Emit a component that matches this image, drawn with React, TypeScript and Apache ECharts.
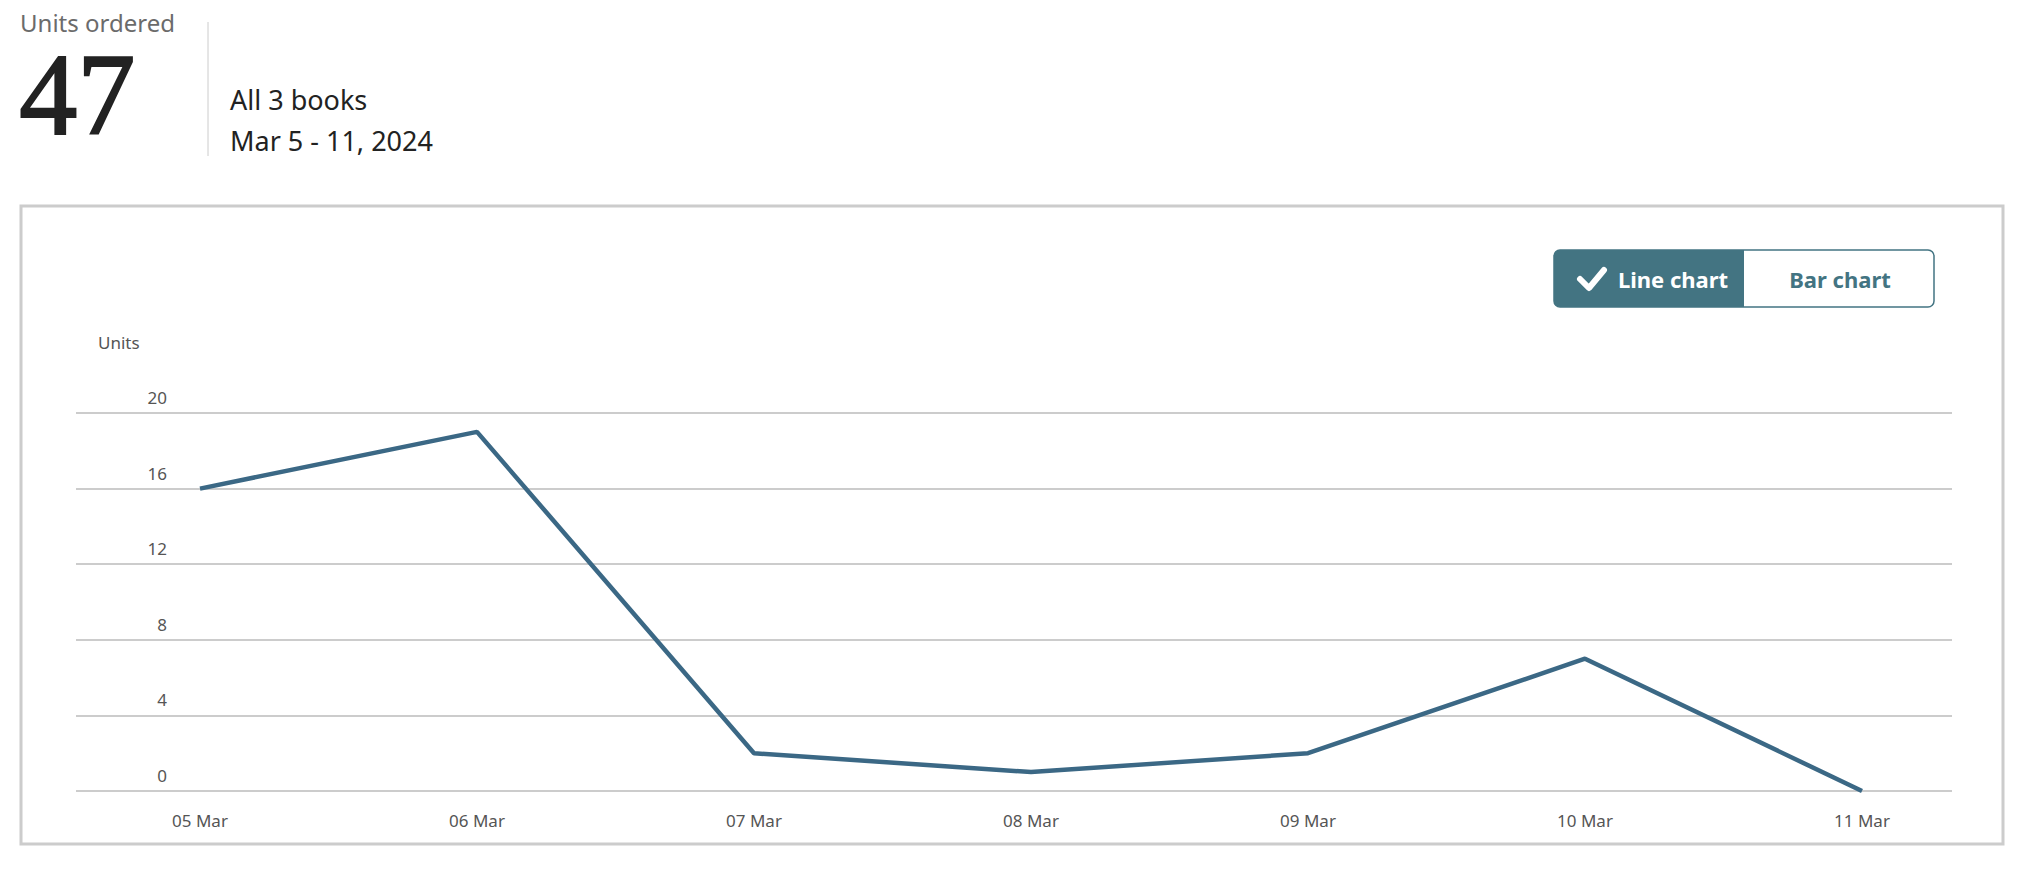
import React, { useEffect, useRef } from "react";
import * as echarts from "echarts";

const categories = ["05 Mar", "06 Mar", "07 Mar", "08 Mar", "09 Mar", "10 Mar", "11 Mar"];
const units = [16, 19, 2, 1, 2, 7, 0];
const yMin = 0;
const yMax = 20;
const yInterval = 4;
const headerLabel = "Units ordered";
const headerTotal = "47";
const headerScope = "All 3 books";
const headerRange = "Mar 5 - 11, 2024";
const yAxisName = "Units";
const toggleLabels = ["Line chart", "Bar chart"];

const FONT = "'Noto Sans', 'Open Sans', sans-serif";
const TEAL = "#437482";

export default function App() {
  const ref = useRef<HTMLDivElement>(null);
  useEffect(() => {
    if (!ref.current) return;
    const chart = echarts.init(ref.current, undefined, { renderer: "svg" });
    chart.setOption({
      animation: false,
      backgroundColor: "#fff",
      grid: [
        { left: 76, right: 74, top: 413, bottom: 96 },
        { left: 200, right: 164, top: 413, bottom: 96 },
      ],
      xAxis: [
        { gridIndex: 0, type: "category", data: categories, show: false },
        {
          gridIndex: 1,
          type: "category",
          data: categories,
          boundaryGap: false,
          axisLine: { show: false },
          axisTick: { show: false },
          axisLabel: { color: "#555", fontSize: 17, fontFamily: FONT, margin: 21 },
        },
      ],
      yAxis: [
        {
          gridIndex: 0,
          type: "value",
          min: yMin,
          max: yMax,
          interval: yInterval,
          axisLine: { show: false },
          axisTick: { show: false },
          splitLine: { lineStyle: { color: "#cccccc", width: 2 } },
          axisLabel: {
            inside: true,
            align: "right",
            margin: 91,
            verticalAlign: "bottom",
            padding: [0, 0, 7, 0],
            color: "#555",
            fontSize: 17,
            fontFamily: FONT,
          },
        },
        { gridIndex: 1, type: "value", min: yMin, max: yMax, interval: yInterval, show: false },
      ],
      series: [
        {
          type: "line",
          xAxisIndex: 1,
          yAxisIndex: 1,
          data: units,
          symbol: "none",
          lineStyle: { color: "#3b6885", width: 4.5 },
        },
      ],
      graphic: [
        { type: "text", x: 20, y: 22, style: { text: headerLabel, font: `24px ${FONT}`, fill: "#6b6b6b", textVerticalAlign: "middle" } },
        { type: "text", x: 23, y: 113, scaleX: 1.16, scaleY: 1.16, originX: 23, originY: 113, style: { text: headerTotal, font: `100px 'Liberation Serif', 'DejaVu Serif', serif`, lineHeight: 78, fill: "#222", stroke: "#222", lineWidth: 1.7, textVerticalAlign: "middle" } },
        { type: "line", shape: { x1: 208, y1: 22, x2: 208, y2: 156 }, style: { stroke: "#cccccc", lineWidth: 1 } },
        { type: "text", x: 230, y: 99, style: { text: headerScope, font: `27px ${FONT}`, fill: "#222", textVerticalAlign: "middle" } },
        { type: "text", x: 230, y: 140, style: { text: headerRange, font: `27px ${FONT}`, fill: "#222", textVerticalAlign: "middle" } },
        { type: "rect", shape: { x: 21, y: 206, width: 1982, height: 638 }, style: { fill: "none", stroke: "#cccccc", lineWidth: 3 } },
        { type: "rect", shape: { x: 1554, y: 250, width: 380, height: 57, r: 6 }, style: { fill: "#fff", stroke: TEAL, lineWidth: 1.5 } },
        { type: "rect", shape: { x: 1554, y: 250, width: 190, height: 57, r: [6, 0, 0, 6] }, style: { fill: TEAL } },
        { type: "polyline", shape: { points: [[1580, 279], [1589, 288], [1604, 270]] }, style: { stroke: "#fff", lineWidth: 6, fill: "none", lineCap: "round", lineJoin: "round" } },
        { type: "text", x: 1673, y: 279, style: { text: toggleLabels[0], font: `bold 22px ${FONT}`, fill: "#fff", textAlign: "center", textVerticalAlign: "middle" } },
        { type: "text", x: 1840, y: 279, style: { text: toggleLabels[1], font: `bold 22px ${FONT}`, fill: TEAL, textAlign: "center", textVerticalAlign: "middle" } },
        { type: "text", left: 98, top: 334, style: { text: yAxisName, font: `17px ${FONT}`, fill: "#555" } },
      ],
    });
    return () => chart.dispose();
  }, []);
  return <div ref={ref} style={{ position: "fixed", left: 0, top: 0, width: 2026, height: 887 }} />;
}
